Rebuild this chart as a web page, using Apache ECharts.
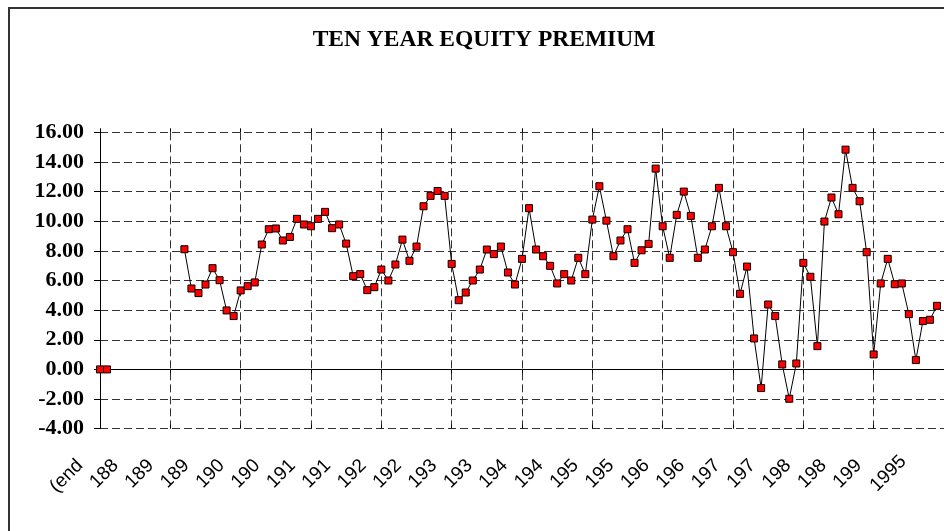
<!DOCTYPE html>
<html>
<head>
<meta charset="utf-8">
<script src="https://cdn.jsdelivr.net/npm/echarts@6/dist/echarts.min.js"></script>
<style>
html,body{margin:0;padding:0;background:#fff;}
#chart{width:944px;height:531px;}
</style>
</head>
<body>
<div id="chart"></div>
<script>
// Category labels (index 0 is the starting point, then one per year)
const categories = [
  '(end of year)',
  '1881','1882','1883','1884','1885','1886','1887','1888','1889','1890',
  '1891','1892','1893','1894','1895','1896','1897','1898','1899','1900',
  '1901','1902','1903','1904','1905','1906','1907','1908','1909','1910',
  '1911','1912','1913','1914','1915','1916','1917','1918','1919','1920',
  '1921','1922','1923','1924','1925','1926','1927','1928','1929','1930',
  '1931','1932','1933','1934','1935','1936','1937','1938','1939','1940',
  '1941','1942','1943','1944','1945','1946','1947','1948','1949','1950',
  '1951','1952','1953','1954','1955','1956','1957','1958','1959','1960',
  '1961','1962','1963','1964','1965','1966','1967','1968','1969','1970',
  '1971','1972','1973','1974','1975','1976','1977','1978','1979','1980',
  '1981','1982','1983','1984','1985','1986','1987','1988','1989','1990',
  '1991','1992','1993','1994','1995','1996','1997','1998','1999','2000'
];

// Ten year equity premium (%)
const premium = [
  0, 0,
  null, null, null, null, null, null, null, null, null, null,
  8.11, 5.46, 5.15, 5.73, 6.83, 6.02, 3.98, 3.60,
  5.33, 5.62, 5.87, 8.43, 9.46, 9.51, 8.70, 8.94, 10.16, 9.78,
  9.66, 10.16, 10.63, 9.53, 9.78, 8.49, 6.29, 6.43, 5.35, 5.55,
  6.74, 6.00, 7.08, 8.76, 7.33, 8.29, 11.01, 11.71, 12.04, 11.71,
  7.12, 4.67, 5.19, 6.00, 6.74, 8.09, 7.78, 8.29, 6.54, 5.73,
  7.46, 10.88, 8.09, 7.64, 6.99, 5.80, 6.43, 6.00, 7.53, 6.43,
  10.11, 12.36, 10.04, 7.64, 8.70, 9.46, 7.19, 8.04, 8.47, 13.55,
  9.66, 7.53, 10.43, 12.00, 10.36, 7.53, 8.09, 9.66, 12.25, 9.66,
  7.91, 5.10, 6.94, 2.09, -1.26, 4.38, 3.60, 0.34, -1.98, 0.40,
  7.19, 6.25, 1.57, 9.98, 11.60, 10.47, 14.83, 12.25, 11.35, 7.91,
  1.01, 5.80, 7.46, 5.75, 5.80, 3.73, 0.63, 3.26, 3.35, 4.29,
  null
];

const titleText = 'TEN YEAR EQUITY PREMIUM';
const yMin = -4, yMax = 16, yStep = 2;
const lastLabelIndex = 115;

const chart = echarts.init(document.getElementById('chart'), null, {renderer: 'canvas'});

const G = {left: 100, right: -5.6, top: 132.3, bottom: 102.3};
// clipped labels grid (shifted further left) and full-label grid
const GT = {left: 80, right: 14.4, top: 132.3, bottom: 102.3};
const GF = {left: 89, right: 5.4, top: 132.3, bottom: 102.3};

const gridDash = {color: '#333', width: 1, type: [8, 4]};
const labelStyle = {
  rotate: 45, fontFamily: 'Liberation Sans', fontSize: 19, color: '#000'
};

const option = {
  animation: false,
  backgroundColor: '#fff',
  title: {
    text: titleText, left: 479, top: 23, textAlign: 'center',
    textStyle: {fontFamily: 'Liberation Serif', fontWeight: 'bold', fontSize: 23.5, color: '#000'}
  },
  grid: [
    Object.assign({}, G),
    Object.assign({}, G),
    Object.assign({}, GT),
    Object.assign({}, GF)
  ],
  xAxis: [
    {
      gridIndex: 0, type: 'category', data: categories, boundaryGap: false,
      axisLine: {onZero: true, lineStyle: {color: '#000', width: 1}},
      axisTick: {show: true, interval: 9, length: 4, lineStyle: {color: '#000'}},
      axisLabel: {show: false},
      splitLine: {show: true, interval: 9, lineStyle: gridDash}
    },
    {
      gridIndex: 0, type: 'category', data: categories, boundaryGap: false, position: 'top',
      axisLine: {show: false, onZero: true},
      axisTick: {show: true, interval: 9, length: 4, lineStyle: {color: '#000'}},
      axisLabel: {show: false}, splitLine: {show: false}
    },
    {
      gridIndex: 1, type: 'category', data: categories, boundaryGap: false, position: 'bottom',
      axisLine: {show: false, onZero: false},
      axisTick: {show: true, inside: true, interval: 9, length: 4, lineStyle: {color: '#000'}},
      axisLabel: {show: false}, splitLine: {show: false}
    },
    {
      gridIndex: 2, type: 'category', data: categories, boundaryGap: false, position: 'bottom',
      axisLine: {show: false, onZero: false}, axisTick: {show: false},
      axisLabel: Object.assign({}, labelStyle, {
        interval: function (i) { return i % 5 === 0 && i < lastLabelIndex; },
        width: 40, overflow: 'truncate', ellipsis: '', margin: 34
      }),
      splitLine: {show: false}
    },
    {
      gridIndex: 3, type: 'category', data: categories, boundaryGap: false, position: 'bottom',
      axisLine: {show: false, onZero: false}, axisTick: {show: false},
      axisLabel: Object.assign({}, labelStyle, {
        interval: function (i) { return i === lastLabelIndex; }, margin: 30
      }),
      splitLine: {show: false}
    }
  ],
  yAxis: [
    {
      gridIndex: 0, type: 'value', min: yMin, max: yMax, interval: yStep,
      axisLine: {show: true, onZero: false, lineStyle: {color: '#000', width: 1}},
      axisTick: {show: true, length: 6, lineStyle: {color: '#000'}},
      axisLabel: {
        formatter: function (v) { return v.toFixed(2); },
        fontFamily: 'Liberation Serif', fontWeight: 'bold', fontSize: 22, color: '#000', margin: 16
      },
      splitLine: {show: true, lineStyle: gridDash}
    },
    {gridIndex: 1, type: 'value', min: yMin, max: yMax, interval: yStep, show: false},
    {gridIndex: 2, type: 'value', min: yMin, max: yMax, interval: yStep, show: false},
    {gridIndex: 3, type: 'value', min: yMin, max: yMax, interval: yStep, show: false}
  ],
  series: [
    {
      type: 'line', xAxisIndex: 0, yAxisIndex: 0, data: premium,
      connectNulls: false,
      symbol: 'rect', symbolSize: 7, showAllSymbol: true,
      itemStyle: {color: '#ff0000', borderColor: '#000', borderWidth: 1},
      lineStyle: {color: '#000', width: 1},
      emphasis: {disabled: true}
    }
  ],
  graphic: [
    {
      type: 'rect', z: 100, silent: true,
      shape: {x: 9, y: 8, width: 1000, height: 1000},
      style: {fill: 'none', stroke: '#333', lineWidth: 2}
    }
  ]
};

chart.setOption(option);
</script>
</body>
</html>
